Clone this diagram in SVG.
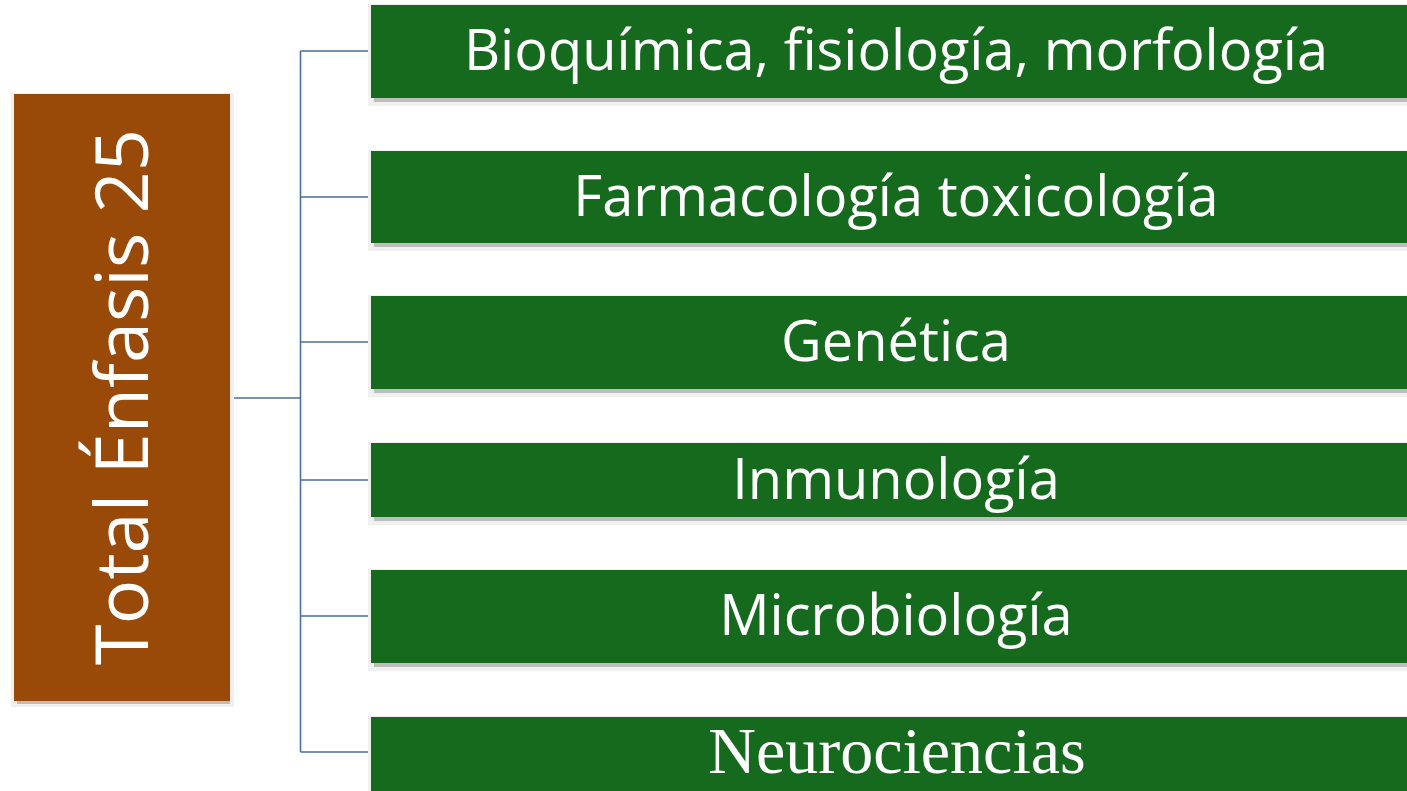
<svg xmlns="http://www.w3.org/2000/svg" width="1407" height="791" viewBox="0 0 1407 791">
<defs>
<style>
.g{fill:#166A1E}
.sh{fill:#BDBDBD}
.sh2{fill:#F0F0F0}
.t{fill:#FFFFFF;font-family:"Open Sans","Noto Sans",sans-serif;font-size:56px;text-anchor:middle;dominant-baseline:central}
.ts{fill:#FFFFFF;font-family:"Liberation Serif","DejaVu Serif",serif;font-size:66px;text-anchor:middle;dominant-baseline:central}
.c{fill:none;stroke:#4A6FA5;stroke-width:1.6}
</style>
</defs>
<rect width="1407" height="791" fill="#FFFFFF"/>
<g id="connectors">
<path class="c" d="M230 398 H300.5 M300.5 51 V752 M300.5 51 H371 M300.5 197 H371 M300.5 342 H371 M300.5 480 H371 M300.5 616 H371 M300.5 752 H371"/>
</g>
<g id="root">
<rect class="sh2" x="11" y="93" width="223" height="614"/>
<rect class="sh" x="17" y="97" width="213" height="607"/>
<rect x="14" y="94" width="216" height="607" fill="#994A08"/>
<text transform="translate(119 397) rotate(-90)" fill="#FFFFFF" font-family="'Open Sans','Noto Sans',sans-serif" font-size="74" text-anchor="middle" dominant-baseline="central">Total Énfasis 25</text>
</g>
<g id="n1">
<rect class="sh2" x="368" y="4" width="1039" height="102"/>
<rect class="sh" x="374" y="8" width="1033" height="94"/>
<rect class="g" x="371" y="5" width="1036" height="93"/>
<text class="t" x="896" y="48">Bioquímica, fisiología, morfología</text>
</g>
<g id="n2">
<rect class="sh2" x="368" y="150" width="1039" height="101"/>
<rect class="sh" x="374" y="154" width="1033" height="93"/>
<rect class="g" x="371" y="151" width="1036" height="92"/>
<text class="t" x="896" y="194">Farmacología toxicología</text>
</g>
<g id="n3">
<rect class="sh2" x="368" y="295" width="1039" height="102"/>
<rect class="sh" x="374" y="299" width="1033" height="94"/>
<rect class="g" x="371" y="296" width="1036" height="93"/>
<text class="t" x="896" y="339">Genética</text>
</g>
<g id="n4">
<rect class="sh2" x="368" y="442" width="1039" height="83"/>
<rect class="sh" x="374" y="446" width="1033" height="75"/>
<rect class="g" x="371" y="443" width="1036" height="74"/>
<text class="t" x="896" y="477">Inmunología</text>
</g>
<g id="n5">
<rect class="sh2" x="368" y="569" width="1039" height="102"/>
<rect class="sh" x="374" y="573" width="1033" height="94"/>
<rect class="g" x="371" y="570" width="1036" height="93"/>
<text class="t" x="896" y="613">Microbiología</text>
</g>
<g id="n6">
<rect class="sh2" x="368" y="716" width="1039" height="80"/>
<rect class="g" x="371" y="717" width="1036" height="80"/>
<text class="ts" x="897" y="750">Neurociencias</text>
</g>
</svg>
